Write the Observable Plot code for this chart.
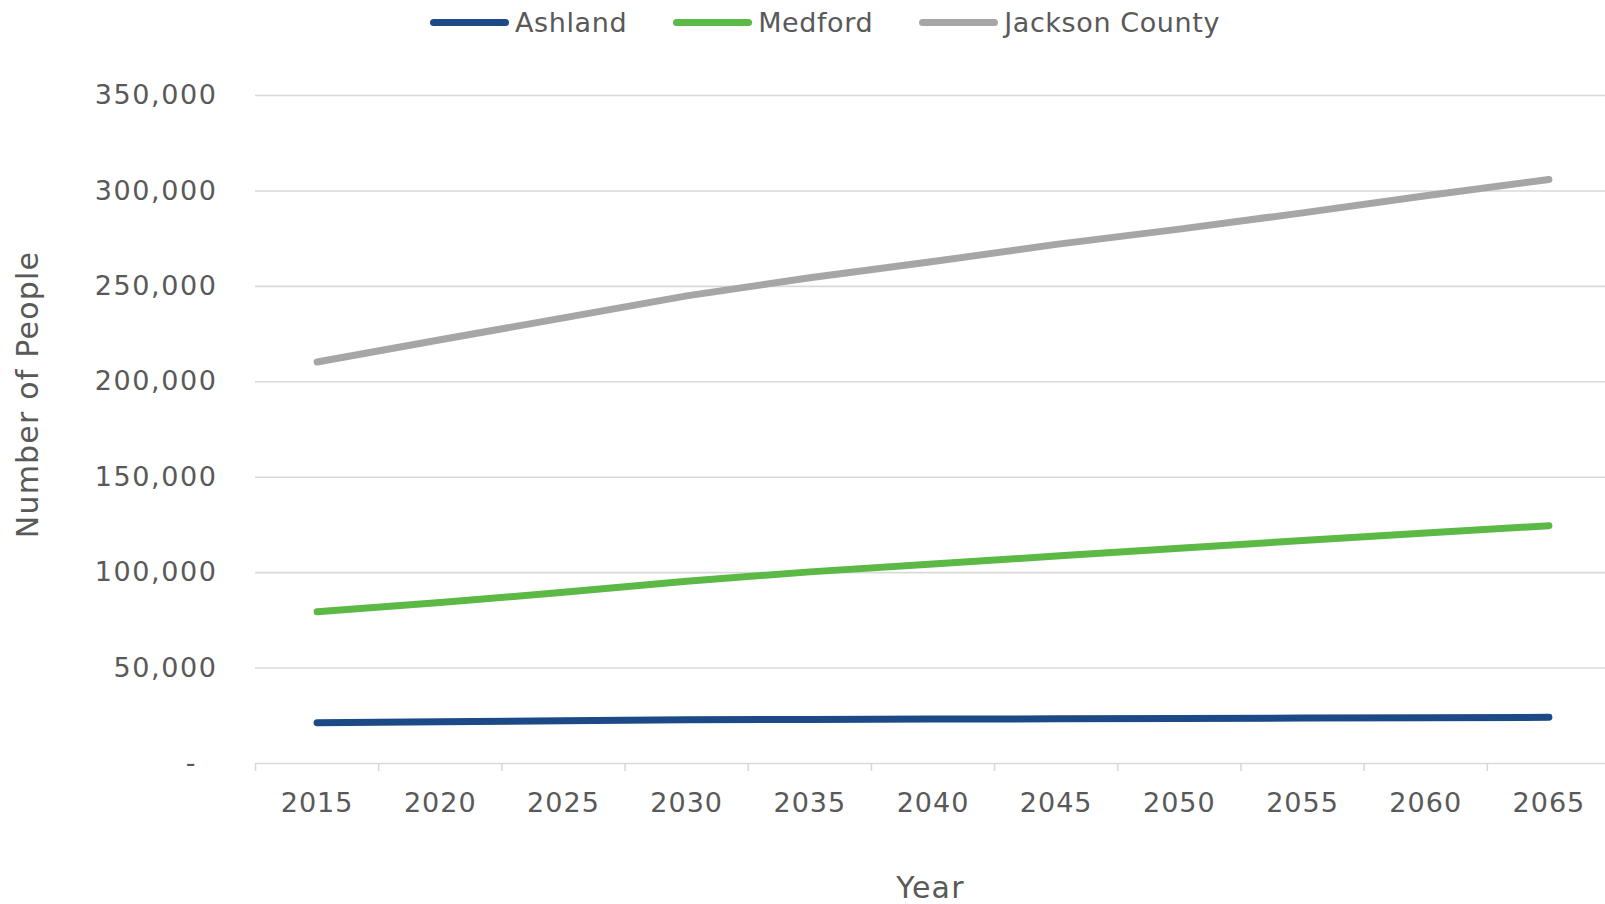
<!DOCTYPE html>
<html>
<head>
<meta charset="utf-8">
<script src="https://cdn.jsdelivr.net/npm/d3@7"></script>
<script src="https://cdn.jsdelivr.net/npm/@observablehq/plot@0.6"></script>
<style>
  html, body { margin: 0; padding: 0; background: #fff; }
  body { width: 1605px; height: 904px; overflow: hidden; font-family: "DejaVu Sans", sans-serif; color: #595959; }
  #legend { height: 45px; display: flex; align-items: center; padding-left: 430px; gap: 46px; font-size: 27px; letter-spacing: 0.6px; }
  .item { display: flex; align-items: center; gap: 6px; }
  .sw { width: 79px; height: 7px; border-radius: 4px; display: inline-block; }
  #chart svg g[aria-label="y-axis tick label"] text { letter-spacing: 1.6px; }
  #chart svg g[aria-label="x-axis tick label"] text { letter-spacing: 1px; }
  #chart svg g.title text { letter-spacing: 1.2px; }
</style>
</head>
<body>
<div id="legend"></div>
<div id="chart"></div>
<script>
const years = [2015, 2020, 2025, 2030, 2035, 2040, 2045, 2050, 2055, 2060, 2065];
const ashland = [21400, 21900, 22400, 22900, 23100, 23300, 23400, 23600, 23800, 24000, 24200];
const medford = [79500, 84300, 89700, 95500, 100400, 104500, 108700, 112800, 116800, 120800, 124600];
const jackson = [210400, 222000, 233500, 245000, 254500, 263000, 272000, 280000, 288500, 297500, 306000];
const seriesNames = ["Ashland", "Medford", "Jackson County"];
const seriesColors = ["#1b4a87", "#5cb946", "#a6a6a6"];
const yTicks = [0, 50000, 100000, 150000, 200000, 250000, 300000, 350000];

const seriesValues = [ashland, medford, jackson];
const data = [];
seriesNames.forEach((name, i) => years.forEach((yr, j) => data.push({series: name, year: yr, value: seriesValues[i][j]})));
const boundaries = years.map(y => y - 2.5);

// legend
const legend = document.getElementById("legend");
seriesNames.forEach((name, i) => {
  const it = document.createElement("div");
  it.className = "item";
  it.innerHTML = `<span class="sw" style="background:${seriesColors[i]}"></span><span>${name}</span>`;
  legend.appendChild(it);
});

const fmt = d3.format(",");
const chart = Plot.plot({
  width: 1605,
  height: 859,
  marginTop: 50,
  marginBottom: 141,
  marginLeft: 255,
  marginRight: 0,
  style: { fontFamily: "DejaVu Sans, sans-serif", fontSize: "27px", color: "#595959", background: "#fff" },
  x: { type: "linear", domain: [2012.5, 2067.5], range: [255, 1610] },
  y: { domain: [0, 350000] },
  color: { domain: seriesNames, range: seriesColors },
  marks: [
    Plot.ruleY(yTicks, { y: d => d, stroke: "#d9d9d9", strokeWidth: 1.6 }),
    Plot.axisY({ ticks: yTicks, tickSize: 0, tickPadding: 38, tickFormat: d => d === 0 ? "-\u00a0\u00a0" : fmt(d), fill: "#595959", label: null, fontSize: 27 }),
    Plot.axisX({ ticks: boundaries, tickSize: 8, tickFormat: () => "", stroke: "#d9d9d9", strokeWidth: 1.6, label: null }),
    Plot.axisX({ ticks: years, tickSize: 0, tickPadding: 29, tickFormat: d => String(d), fill: "#595959", label: null, fontSize: 27 }),
    Plot.line(data, { x: "year", y: "value", z: "series", stroke: "series", strokeWidth: 7, strokeLinecap: "round", strokeLinejoin: "round" }),
    Plot.text(["Year"], { frameAnchor: "bottom", textAnchor: "middle", text: d => d, dy: 134, fontSize: 30, fill: "#595959", className: "title" }),
    Plot.text(["Number of People"], { frameAnchor: "left", textAnchor: "middle", text: d => d, rotate: -90, dx: -227, dy: -35, fontSize: 30, fill: "#595959", className: "title" })
  ]
});
document.getElementById("chart").appendChild(chart);
</script>
</body>
</html>
